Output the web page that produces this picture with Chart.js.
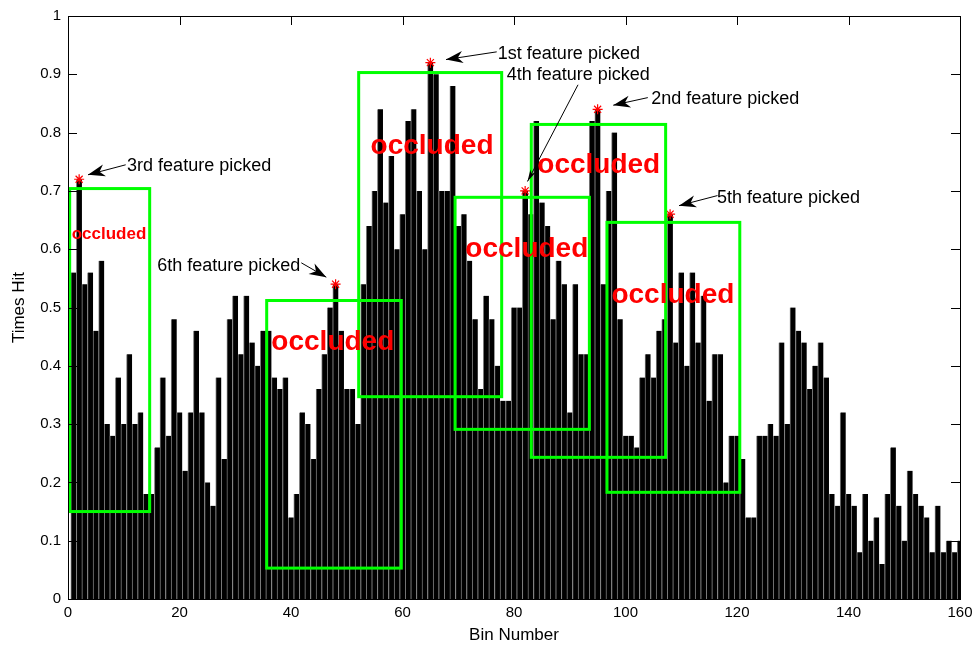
<!DOCTYPE html>
<html>
<head>
<meta charset="utf-8">
<title>Times Hit per Bin</title>
<script src="https://cdn.jsdelivr.net/npm/chart.js@4.4.0/dist/chart.umd.min.js"></script>
<style>
  html, body { margin: 0; padding: 0; background: #fff; }
  #chart { display: block; }
</style>
</head>
<body>
<canvas id="chart" width="979" height="647"></canvas>
<script>
// === Data ===
const bins = Array.from({ length: 160 }, (_, i) => i + 1);

const timesHit = [
  0.56, 0.72, 0.54, 0.56, 0.46, 0.58, 0.30, 0.28, 0.38, 0.30,
  0.42, 0.30, 0.32, 0.18, 0.18, 0.26, 0.38, 0.28, 0.48, 0.32,
  0.22, 0.32, 0.46, 0.32, 0.20, 0.16, 0.38, 0.24, 0.48, 0.52,
  0.42, 0.52, 0.44, 0.40, 0.46, 0.46, 0.38, 0.36, 0.38, 0.14,
  0.18, 0.32, 0.30, 0.24, 0.36, 0.42, 0.50, 0.54, 0.46, 0.36,
  0.36, 0.30, 0.54, 0.64, 0.70, 0.84, 0.68, 0.76, 0.60, 0.66,
  0.82, 0.84, 0.70, 0.60, 0.92, 0.90, 0.70, 0.70, 0.88, 0.64,
  0.66, 0.58, 0.48, 0.36, 0.52, 0.48, 0.40, 0.34, 0.34, 0.50,
  0.50, 0.70, 0.66, 0.82, 0.68, 0.64, 0.48, 0.58, 0.54, 0.32,
  0.54, 0.42, 0.42, 0.82, 0.84, 0.54, 0.70, 0.80, 0.48, 0.28,
  0.28, 0.26, 0.38, 0.42, 0.38, 0.46, 0.48, 0.66, 0.44, 0.56,
  0.40, 0.56, 0.44, 0.52, 0.34, 0.42, 0.42, 0.20, 0.28, 0.28,
  0.24, 0.14, 0.14, 0.28, 0.28, 0.30, 0.28, 0.44, 0.30, 0.50,
  0.46, 0.44, 0.36, 0.40, 0.44, 0.38, 0.18, 0.16, 0.32, 0.18,
  0.16, 0.08, 0.18, 0.10, 0.14, 0.06, 0.18, 0.26, 0.16, 0.10,
  0.22, 0.18, 0.16, 0.14, 0.08, 0.16, 0.08, 0.10, 0.08, 0.10
];

// bins picked as features, in pick order (1st .. 6th)
const pickedBins = [65, 95, 2, 82, 108, 48];
const pickLabels = [
  "1st feature picked", "2nd feature picked", "3rd feature picked",
  "4th feature picked", "5th feature picked", "6th feature picked"
];

const xTicks = [0, 20, 40, 60, 80, 100, 120, 140, 160];
const xTickLabels = ["0", "20", "40", "60", "80", "100", "120", "140", "160"];
const yTicks = [0, 0.1, 0.2, 0.3, 0.4, 0.5, 0.6, 0.7, 0.8, 0.9, 1];
const yTickLabels = ["0", "0.1", "0.2", "0.3", "0.4", "0.5", "0.6", "0.7", "0.8", "0.9", "1"];

// === Annotation layout (data units) ===
// occluded regions: [x0, x1, yTop, yBottom]
const occludedBoxes = [
  [0.30, 14.65, 0.704, 0.150],
  [35.64, 59.78, 0.512, 0.053],
  [52.14, 77.79, 0.903, 0.347],
  [69.43, 93.52, 0.689, 0.291],
  [83.10, 107.2, 0.814, 0.243],
  [96.68, 120.5, 0.646, 0.183]
];
// label centre x, baseline y, font size
const occludedLabels = [
  [7.35, 0.618, 17],
  [47.5, 0.427, 28],
  [65.3, 0.764, 28],
  [82.3, 0.586, 28],
  [95.2, 0.730, 28],
  [108.5, 0.508, 28]
];
// arrow tail -> head, label start, head size
const pickArrows = [
  { tail: [76.9, 0.9385], head: [67.8, 0.9253], text: [77.1, 0.926], size: [17, 6] },
  { tail: [104.0, 0.860], head: [97.8, 0.847], text: [104.6, 0.849], size: [17, 6] },
  { tail: [10.35, 0.7448], head: [3.59, 0.7277], text: [10.6, 0.734], size: [17, 6] },
  { tail: [91.48, 0.882], head: [82.42, 0.7162], text: [78.7, 0.890], size: [12, 3] },
  { tail: [116.5, 0.692], head: [109.6, 0.6747], text: [116.4, 0.679], size: [17, 6] },
  { tail: [41.85, 0.5766], head: [46.33, 0.552], text: [16.0, 0.563], size: [17, 6] }
];

const FONT = "'Liberation Sans', Arial, Helvetica, sans-serif";
Chart.defaults.font.family = FONT;
Chart.defaults.color = "#000";

function drawArrow(ctx, x0, y0, x1, y1, len, half) {
  ctx.beginPath();
  ctx.moveTo(x0, y0);
  ctx.lineTo(x1, y1);
  ctx.stroke();
  const a = Math.atan2(y1 - y0, x1 - x0);
  const c = Math.cos(a), s = Math.sin(a);
  const bx = x1 - len * c, by = y1 - len * s;
  const notch = len * 0.7;
  ctx.beginPath();
  ctx.moveTo(x1, y1);
  ctx.lineTo(bx - s * half, by + c * half);
  ctx.lineTo(x1 - notch * c, y1 - notch * s);
  ctx.lineTo(bx + s * half, by - c * half);
  ctx.closePath();
  ctx.fill();
}

// === Axes box with inward ticks (MATLAB style) ===
const boxAxes = {
  id: "boxAxes",
  afterDraw(chart) {
    const { ctx, chartArea: a, scales } = chart;
    const tl = 9;
    ctx.save();
    ctx.strokeStyle = "#000";
    ctx.lineWidth = 1;
    ctx.beginPath();
    xTicks.forEach((v) => {
      const px = Math.round(scales.x.getPixelForValue(v)) + 0.5;
      ctx.moveTo(px, a.bottom); ctx.lineTo(px, a.bottom - tl);
      ctx.moveTo(px, a.top); ctx.lineTo(px, a.top + tl);
    });
    yTicks.forEach((v) => {
      const py = Math.round(scales.y.getPixelForValue(v)) + 0.5;
      ctx.moveTo(a.left, py); ctx.lineTo(a.left + tl, py);
      ctx.moveTo(a.right, py); ctx.lineTo(a.right - tl, py);
    });
    ctx.stroke();
    ctx.strokeRect(Math.round(a.left) + 0.5, Math.round(a.top) + 0.5,
      Math.round(a.right - a.left), Math.round(a.bottom - a.top));
    ctx.restore();
  }
};

// === Occluded boxes, labels and pick arrows ===
const annotations = {
  id: "annotations",
  afterDatasetsDraw(chart) {
    const { ctx, scales } = chart;
    const px = (x) => scales.x.getPixelForValue(x);
    const py = (y) => scales.y.getPixelForValue(y);
    ctx.save();

    ctx.strokeStyle = "#00ff00";
    ctx.lineWidth = 3;
    occludedBoxes.forEach(([x0, x1, y0, y1]) => {
      ctx.strokeRect(px(x0), py(y0), px(x1) - px(x0), py(y1) - py(y0));
    });

    ctx.fillStyle = "#000";
    ctx.strokeStyle = "#000";
    ctx.lineWidth = 1;
    ctx.font = "18px " + FONT;
    ctx.textAlign = "left";
    ctx.textBaseline = "alphabetic";
    pickArrows.forEach((p, i) => {
      drawArrow(ctx, px(p.tail[0]), py(p.tail[1]), px(p.head[0]), py(p.head[1]), p.size[0], p.size[1]);
      ctx.fillText(pickLabels[i], px(p.text[0]), py(p.text[1]));
    });

    ctx.fillStyle = "#ff0000";
    ctx.textAlign = "center";
    occludedLabels.forEach(([x, y, size]) => {
      ctx.font = "bold " + size + "px " + FONT;
      ctx.fillText("occluded", px(x), py(y));
    });
    ctx.restore();
  }
};

new Chart(document.getElementById("chart"), {
  data: {
    datasets: [
      {
        type: "scatter",
        data: pickedBins.map((b) => ({ x: b, y: timesHit[b - 1] })),
        pointStyle: "star",
        radius: 5,
        borderColor: "#ff0000",
        backgroundColor: "#ff0000",
        borderWidth: 1.2,
        order: 0
      },
      {
        type: "bar",
        data: bins.map((b, i) => ({ x: b, y: timesHit[i] })),
        backgroundColor: "#000",
        borderColor: "#7a7a7a",
        borderWidth: { left: 1, right: 0, top: 0, bottom: 0 },
        barPercentage: 1,
        categoryPercentage: 1,
        order: 1
      }
    ]
  },
  options: {
    responsive: false,
    animation: false,
    devicePixelRatio: 1,
    layout: { padding: { left: 0, top: 14, right: 19, bottom: 0 } },
    plugins: { legend: { display: false }, tooltip: { enabled: false } },
    scales: {
      x: {
        type: "linear",
        offset: false,
        min: 0,
        max: 160,
        afterBuildTicks: (s) => { s.ticks = xTicks.map((v) => ({ value: v })); },
        afterFit: (s) => { s.height = 48; },
        grid: { display: false, drawTicks: false, offset: false },
        border: { display: false },
        ticks: {
          padding: 5,
          maxRotation: 0,
          font: { size: 15 },
          callback: (v) => xTickLabels[xTicks.indexOf(v)]
        },
        title: { display: true, text: "Bin Number", font: { size: 17 }, padding: { top: 0, bottom: 1 } }
      },
      y: {
        min: 0,
        max: 1,
        afterBuildTicks: (s) => { s.ticks = yTicks.map((v) => ({ value: v })); },
        afterFit: (s) => { s.width = 68; },
        grid: { display: false, drawTicks: false },
        border: { display: false },
        ticks: {
          padding: 7,
          font: { size: 15 },
          callback: (v) => yTickLabels[yTicks.indexOf(v)]
        },
        title: { display: true, text: "Times Hit", font: { size: 17 }, padding: { top: 9, bottom: 0 } }
      }
    }
  },
  plugins: [annotations, boxAxes]
});
</script>
</body>
</html>
